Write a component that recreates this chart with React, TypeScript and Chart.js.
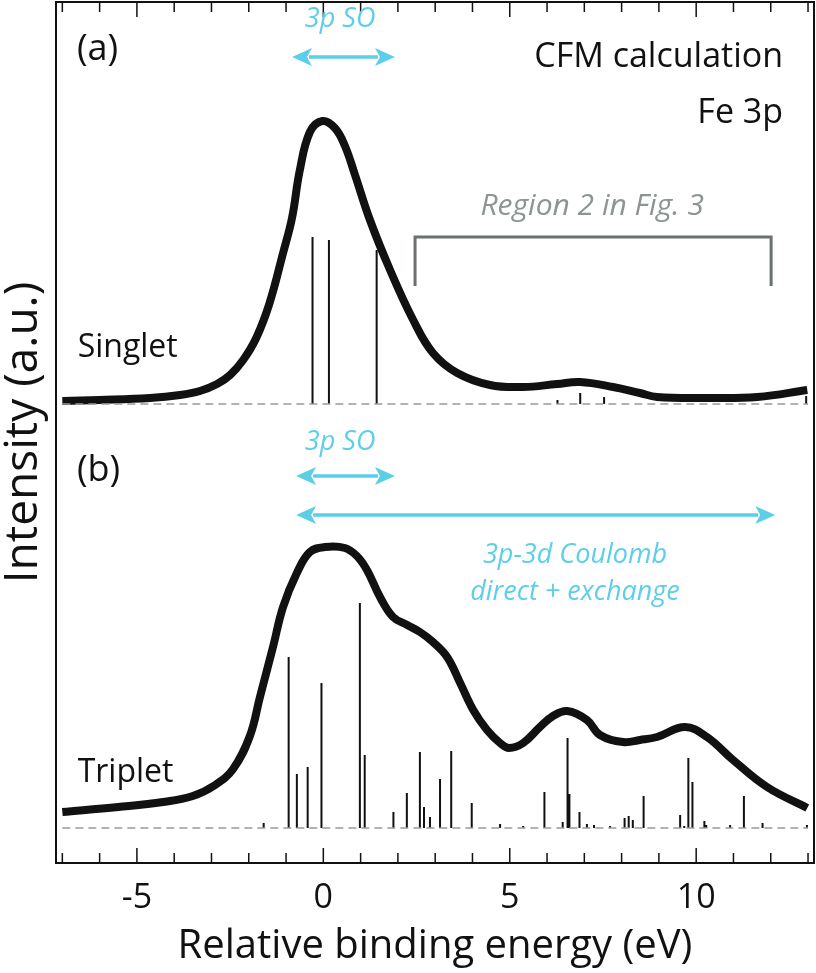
import React, { useEffect, useRef } from 'react';
import { Chart, registerables } from 'chart.js';

Chart.register(...registerables);

// ---- axis ----
const xMin = -7.17;
const xMax = 13.16;
const yMin = -0.35;
const yMax = 8.26;
const majorTicks = [-5, 0, 5, 10];
const minorTicks = [-7, -6, -4, -3, -2, -1, 1, 2, 3, 4, 6, 7, 8, 9, 11, 12, 13];
const singletOffset = 4.24;

// ---- (a) singlet ----
const singletCurveX = [-7.0, -6.0, -4.65, -3.84, -3.31, -2.85, -2.5, -2.15, -1.8, -1.45, -1.08, -0.84, -0.63, -0.36, -0.03, 0.31, 0.58, 0.85, 1.25, 1.79, 2.41, 2.94, 3.59, 4.47, 5.36, 6.27, 6.89, 7.77, 8.49, 8.95, 10.29, 11.64, 12.98];
const singletCurveY = [0.03, 0.04, 0.06, 0.09, 0.13, 0.2, 0.29, 0.44, 0.66, 1.0, 1.51, 1.86, 2.34, 2.72, 2.83, 2.76, 2.58, 2.29, 1.84, 1.34, 0.84, 0.51, 0.31, 0.19, 0.17, 0.2, 0.22, 0.17, 0.11, 0.07, 0.06, 0.07, 0.14];
const singletStickX = [-0.29, 0.15, 1.43, 6.28, 6.89, 7.53, 12.95];
const singletStickH = [1.67, 1.64, 1.54, 0.04, 0.11, 0.07, 0.08];

// ---- (b) triplet ----
const tripletCurveX = [-7.0, -5.5, -4.3, -3.5, -2.9, -2.42, -1.97, -1.7, -1.35, -1.08, -0.71, -0.36, 0.05, 0.58, 0.9, 1.17, 1.52, 1.87, 2.25, 2.59, 2.94, 3.32, 3.67, 4.02, 4.39, 4.74, 4.98, 5.36, 5.81, 6.16, 6.54, 7.07, 7.42, 8.04, 8.49, 8.95, 9.7, 10.29, 10.99, 11.9, 12.98];
const tripletCurveY = [0.16, 0.21, 0.26, 0.32, 0.43, 0.59, 0.92, 1.31, 1.81, 2.21, 2.55, 2.76, 2.81, 2.8, 2.72, 2.58, 2.31, 2.11, 2.03, 1.96, 1.86, 1.71, 1.45, 1.18, 0.98, 0.85, 0.8, 0.85, 1.01, 1.12, 1.17, 1.08, 0.93, 0.86, 0.88, 0.91, 1.01, 0.91, 0.68, 0.41, 0.2];
const tripletStickX = [-1.6, -0.93, -0.71, -0.42, -0.05, 0.98, 1.11, 1.88, 2.24, 2.59, 2.7, 2.86, 3.13, 3.43, 3.98, 4.74, 5.36, 5.93, 6.42, 6.55, 6.6, 6.87, 7.07, 7.26, 7.69, 8.08, 8.19, 8.3, 8.59, 9.57, 9.68, 9.79, 9.9, 10.22, 10.27, 10.91, 11.28, 11.78, 12.97];
const tripletStickH = [0.05, 1.71, 0.54, 0.61, 1.45, 2.25, 0.73, 0.16, 0.35, 0.76, 0.21, 0.11, 0.49, 0.77, 0.25, 0.04, 0.02, 0.36, 0.06, 0.9, 0.34, 0.16, 0.04, 0.03, 0.02, 0.1, 0.12, 0.08, 0.32, 0.13, 0.02, 0.7, 0.46, 0.07, 0.03, 0.03, 0.32, 0.05, 0.03];

// ---- annotations ----
const baselineX = [-7.0, 13.0];
const regionBracketX = [2.46, 12.01];
const regionBracketY = [5.42, 5.91];
const soArrowA = { x: [-0.84, 1.92], y: 7.71 };
const soArrowB = { x: [-0.73, 1.92], y: 3.52 };
const coulombArrow = { x: [-0.73, 12.12], y: 3.13 };

const BLACK = '#111111';
const CYAN = '#5ccfe8';
const GREY_TEXT = '#8c9494';
const GREY_BRACKET = '#6b7070';
const DASH_GREY = '#9a9a9a';
const FONT = '"Open Sans", "DejaVu Sans", sans-serif';

type Label = { text: string; x: number; y: number; align: CanvasTextAlign; size: number; color: string; italic?: boolean };
const labels: Label[] = [
  { text: '(a)', x: -6.61, y: 7.68, align: 'left', size: 36, color: BLACK },
  { text: '(b)', x: -6.61, y: 3.47, align: 'left', size: 36, color: BLACK },
  { text: 'CFM calculation', x: 12.33, y: 7.61, align: 'right', size: 34, color: BLACK },
  { text: 'Fe 3p', x: 12.33, y: 7.05, align: 'right', size: 34, color: BLACK },
  { text: 'Region 2 in Fig. 3', x: 7.21, y: 6.13, align: 'center', size: 30, color: GREY_TEXT, italic: true },
  { text: 'Singlet', x: -6.59, y: 4.71, align: 'left', size: 32, color: BLACK },
  { text: 'Triplet', x: -6.59, y: 0.46, align: 'left', size: 32, color: BLACK },
  { text: '3p SO', x: 0.45, y: 8.01, align: 'center', size: 27, color: CYAN, italic: true },
  { text: '3p SO', x: 0.45, y: 3.78, align: 'center', size: 27, color: CYAN, italic: true },
  { text: '3p-3d Coulomb', x: 6.75, y: 2.65, align: 'center', size: 27, color: CYAN, italic: true },
  { text: 'direct + exchange', x: 6.75, y: 2.28, align: 'center', size: 27, color: CYAN, italic: true },
];

function curve(xs: number[], ys: number[], off: number) {
  return xs.map((x, i) => ({ x, y: ys[i] + off }));
}
function sticks(xs: number[], hs: number[], off: number) {
  const out: { x: number; y: number | null }[] = [];
  xs.forEach((x, i) => {
    out.push({ x, y: off });
    out.push({ x, y: off + hs[i] });
    out.push({ x, y: null });
  });
  return out;
}

const decorPlugin = {
  id: 'decor',
  afterDatasetsDraw(chart: any) {
    const { ctx, chartArea: ca, scales } = chart;
    const xs = scales.x;
    const ys = scales.y;
    const px = (v: number) => xs.getPixelForValue(v);
    const py = (v: number) => ys.getPixelForValue(v);
    ctx.save();
    ctx.strokeStyle = BLACK;
    ctx.lineWidth = 2;
    ctx.strokeRect(ca.left, ca.top, ca.right - ca.left, ca.bottom - ca.top);
    const drawTick = (v: number, len: number) => {
      const x = px(v);
      ctx.beginPath();
      ctx.moveTo(x, ca.bottom);
      ctx.lineTo(x, ca.bottom - len);
      ctx.moveTo(x, ca.top);
      ctx.lineTo(x, ca.top + len);
      ctx.stroke();
    };
    ctx.lineWidth = 1.5;
    majorTicks.forEach((v) => drawTick(v, 15));
    minorTicks.forEach((v) => drawTick(v, 10));

    ctx.strokeStyle = GREY_BRACKET;
    ctx.lineWidth = 3;
    ctx.beginPath();
    ctx.moveTo(px(regionBracketX[0]), py(regionBracketY[0]));
    ctx.lineTo(px(regionBracketX[0]), py(regionBracketY[1]));
    ctx.lineTo(px(regionBracketX[1]), py(regionBracketY[1]));
    ctx.lineTo(px(regionBracketX[1]), py(regionBracketY[0]));
    ctx.stroke();

    const arrow = (a: { x: number[]; y: number }) => {
      const x1 = px(a.x[0]);
      const x2 = px(a.x[1]);
      const y = py(a.y);
      const hl = 20;
      const hw = 9;
      ctx.strokeStyle = CYAN;
      ctx.fillStyle = CYAN;
      ctx.lineWidth = 3.5;
      ctx.beginPath();
      ctx.moveTo(x1 + hl - 3, y);
      ctx.lineTo(x2 - hl + 3, y);
      ctx.stroke();
      ctx.beginPath();
      ctx.moveTo(x1, y);
      ctx.lineTo(x1 + hl, y - hw);
      ctx.lineTo(x1 + hl - 5, y);
      ctx.lineTo(x1 + hl, y + hw);
      ctx.closePath();
      ctx.fill();
      ctx.beginPath();
      ctx.moveTo(x2, y);
      ctx.lineTo(x2 - hl, y - hw);
      ctx.lineTo(x2 - hl + 5, y);
      ctx.lineTo(x2 - hl, y + hw);
      ctx.closePath();
      ctx.fill();
    };
    arrow(soArrowA);
    arrow(soArrowB);
    arrow(coulombArrow);

    ctx.textBaseline = 'alphabetic';
    labels.forEach((l) => {
      ctx.font = `${l.italic ? 'italic ' : ''}${l.size}px ${FONT}`;
      ctx.fillStyle = l.color;
      ctx.textAlign = l.align;
      ctx.fillText(l.text, px(l.x), py(l.y));
    });
    ctx.restore();
  },
};

export default function App() {
  const ref = useRef<HTMLCanvasElement | null>(null);
  useEffect(() => {
    if (!ref.current) return;
    const lineBase = { pointRadius: 0, fill: false };
    const chart = new Chart(ref.current, {
      type: 'line',
      data: {
        datasets: [
          { ...lineBase, label: 'singlet baseline', data: baselineX.map((x) => ({ x, y: singletOffset })), borderColor: DASH_GREY, borderWidth: 1.5, borderDash: [8, 5] },
          { ...lineBase, label: 'triplet baseline', data: baselineX.map((x) => ({ x, y: 0 })), borderColor: DASH_GREY, borderWidth: 1.5, borderDash: [8, 5] },
          { ...lineBase, label: 'singlet sticks', data: sticks(singletStickX, singletStickH, singletOffset), borderColor: BLACK, borderWidth: 2, spanGaps: false },
          { ...lineBase, label: 'triplet sticks', data: sticks(tripletStickX, tripletStickH, 0), borderColor: BLACK, borderWidth: 2, spanGaps: false },
          { ...lineBase, label: 'singlet', data: curve(singletCurveX, singletCurveY, singletOffset), borderColor: BLACK, borderWidth: 8, tension: 0.4, borderJoinStyle: 'round' },
          { ...lineBase, label: 'triplet', data: curve(tripletCurveX, tripletCurveY, 0), borderColor: BLACK, borderWidth: 8, tension: 0.4, borderJoinStyle: 'round' },
        ],
      },
      options: {
        animation: false,
        responsive: false,
        maintainAspectRatio: false,
        layout: { padding: { left: 0, right: 2, top: 2, bottom: 0 } },
        plugins: { legend: { display: false }, tooltip: { enabled: false } },
        scales: {
          x: {
            type: 'linear',
            min: xMin,
            max: xMax,
            afterBuildTicks: (s: any) => {
              s.ticks = majorTicks.map((v) => ({ value: v }));
            },
            afterFit: (s: any) => {
              s.height = 110;
            },
            grid: { display: false, drawTicks: false },
            border: { display: false },
            ticks: { color: BLACK, font: { family: FONT, size: 34 }, padding: 15, maxRotation: 0 },
            title: {
              display: true,
              text: 'Relative binding energy (eV)',
              color: BLACK,
              font: { family: FONT, size: 40 },
              padding: { top: 0, bottom: 2 },
            },
          },
          y: {
            type: 'linear',
            min: yMin,
            max: yMax,
            afterFit: (s: any) => {
              s.width = 56;
            },
            grid: { display: false, drawTicks: false },
            border: { display: false },
            ticks: { display: false },
            title: {
              display: true,
              text: 'Intensity (a.u.)',
              color: BLACK,
              font: { family: FONT, size: 46 },
              padding: { top: -4, bottom: 0 },
            },
          },
        },
      },
      plugins: [decorPlugin],
    } as any);
    return () => chart.destroy();
  }, []);
  return (
    <div style={{ position: 'fixed', left: 0, top: 0, width: 816, height: 973, background: '#fff' }}>
      <canvas ref={ref} width={816} height={973} style={{ width: 816, height: 973 }} />
    </div>
  );
}
